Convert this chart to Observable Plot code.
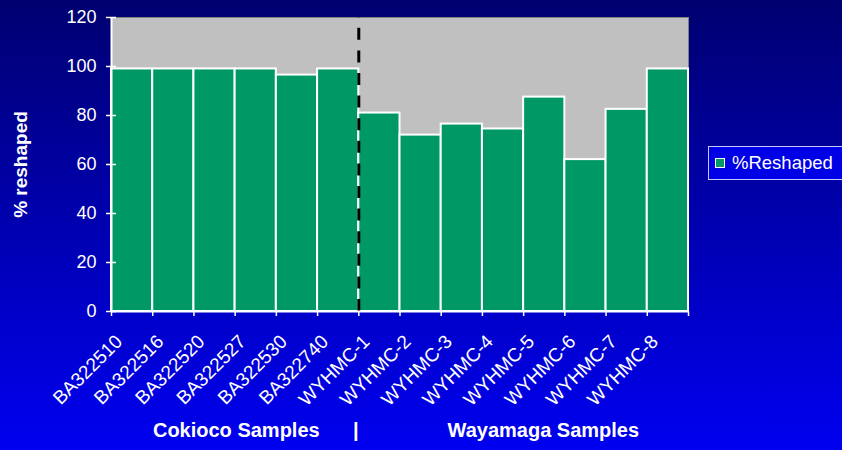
<!DOCTYPE html>
<html><head><meta charset="utf-8">
<script src="https://cdn.jsdelivr.net/npm/d3@7"></script>
<script src="https://cdn.jsdelivr.net/npm/@observablehq/plot@0.6"></script>
<style>
html,body{margin:0;padding:0;width:842px;height:450px;overflow:hidden;}
body{background:linear-gradient(to bottom,#000070,#0000f0);font-family:Arial,"Liberation Sans",sans-serif;position:relative;}
#chart svg{display:block;background:transparent;}
#legend{position:absolute;left:708px;top:146px;width:140px;height:34px;box-sizing:border-box;background:#0000e6;border:1px solid #c8c8ff;color:#fff;font-size:18.5px;display:flex;align-items:center;}
#legend .sw{width:8px;height:8px;background:#009966;border:1.5px solid #fff;margin-left:6px;margin-right:7px;flex:none;}
</style></head>
<body><div id="chart"></div><div id="legend"><span class="sw"></span><span id="legendText"></span></div>
<script>
const samples = ["BA322510","BA322516","BA322520","BA322527","BA322530","BA322740",
  "WYHMC-1","WYHMC-2","WYHMC-3","WYHMC-4","WYHMC-5","WYHMC-6","WYHMC-7","WYHMC-8"];
const reshaped = [99, 99, 99, 99, 96.5, 99, 81, 72, 76.5, 74.5, 87.5, 62, 82.5, 99];
const sampleGroups = ["Cokioco","Cokioco","Cokioco","Cokioco","Cokioco","Cokioco",
  "Wayamaga","Wayamaga","Wayamaga","Wayamaga","Wayamaga","Wayamaga","Wayamaga","Wayamaga"];
const yTicks = [0, 20, 40, 60, 80, 100, 120];
const yLabel = "% reshaped";
const xTitle = "Cokioco Samples" + "\u00A0".repeat(6) + "|" + "\u00A0".repeat(16) + "Wayamaga Samples";
const legendLabel = "%Reshaped";

document.getElementById("legendText").textContent = legendLabel;

const data = samples.map((s, i) => ({sample: s, i, value: reshaped[i], group: sampleGroups[i]}));
const n = samples.length;
const split = sampleGroups.filter(g => g === sampleGroups[0]).length;
const yMax = d3.max(yTicks);
const fontFamily = 'Arial, "Liberation Sans", sans-serif';

const chart = Plot.plot({
  width: 842,
  height: 450,
  marginLeft: 111,
  marginRight: 154,
  marginTop: 17,
  marginBottom: 139,
  style: {background: "transparent", fontFamily},
  x: {type: "linear", domain: [0, n], axis: null},
  y: {domain: [0, yMax], axis: null},
  marks: [
    Plot.frame({fill: "#c0c0c0", stroke: "#808080"}),
    Plot.rect(data, {x1: "i", x2: d => d.i + 1, y1: 0, y2: "value", fill: "#009966", stroke: "white", strokeWidth: 2}),
    Plot.ruleX([split], {x: d => d, y1: 0, y2: yMax, stroke: "black", strokeWidth: 3, strokeDasharray: "12,10.6"}),
    Plot.ruleX([0], {stroke: "white", strokeWidth: 2}),
    Plot.ruleY([0], {stroke: "white", strokeWidth: 2}),
    Plot.axisY(yTicks, {tickSize: 10, dx: 5, fill: "none", stroke: "white", strokeWidth: 1.5, label: null}),
    Plot.axisY(yTicks, {tickSize: 0, tickPadding: 15, fill: "white", fontSize: 18, label: null}),
    Plot.axisX(d3.range(n + 1), {tickSize: 5, fill: "none", stroke: "white", strokeWidth: 1.5, label: null}),
    Plot.text(data, {x: d => d.i + 0.5, y: 0, text: "sample", rotate: -45, textAnchor: "end", dx: -13, dy: 27, fill: "white", fontSize: 19}),
    Plot.text([yLabel], {frameAnchor: "left", rotate: -90, textAnchor: "middle", dx: -90.5, fill: "white", fontSize: 19, fontWeight: "bold"}),
    Plot.text([xTitle], {frameAnchor: "bottom", dx: -4, dy: 125.6, fill: "white", fontSize: 20, fontWeight: "bold"})
  ]
});
document.getElementById("chart").appendChild(chart);
</script>
</body></html>
